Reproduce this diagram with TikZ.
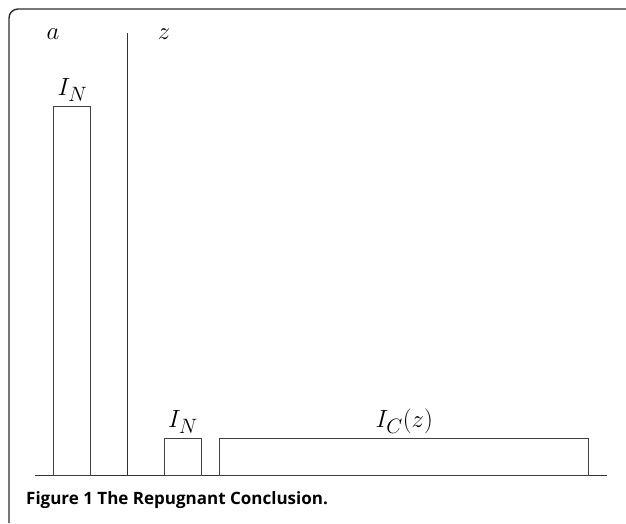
\documentclass[tikz,border=0pt]{standalone}
\usepackage{fontspec}
\newfontfamily\capfont{Open Sans}
\begin{document}
\begin{tikzpicture}[x=1pt,y=-1pt,
  bar/.style={draw=black!75,line width=1.1pt,inner sep=0pt,anchor=south west},
  lbl/.style={anchor=base,inner sep=0pt,font=\fontsize{29}{34}\selectfont},
  rule/.style={draw=black!80,line width=1.2pt}]
\useasboundingbox (0,0) rectangle (626,523);
% frame
\draw[black!82,line width=1.4pt,rounded corners=9pt] (9,523) -- (9,9) -- (626,9);
% baseline and divider
\coordinate (bl) at (34.7,475.7);
\coordinate (br) at (606.7,475.7);
\coordinate (dt) at (127,33);
\coordinate (db) at (127,475.7);
\draw[rule] (bl) -- (br);
\draw[draw=black!80,line width=1pt] (dt) -- (db);
% bars
\node[bar,minimum width=37pt,minimum height=368.4pt] (tall) at (53.3,475.7) {};
\node[bar,minimum width=36.7pt,minimum height=36.7pt] (small) at (164,475.7) {};
\node[bar,minimum width=369.3pt,minimum height=36.7pt] (long) at (219,475.7) {};
% labels
\node[lbl] (la) at (53,39) {$a$};
\node[lbl] (lz) at (164,39) {$z$};
\node[lbl] (l1) at ([yshift=10.5pt]tall.north) {$I_N$};
\node[lbl] (l2) at ([yshift=10.5pt]small.north) {$I_N$};
\node[lbl] (l3) at ([yshift=10.5pt]long.north) {$I_C(z)$};
% caption
\node[anchor=base west,inner sep=0pt,font=\capfont\bfseries\fontsize{17}{20}\selectfont] (cap) at (26,504.5) {Figure 1 The Repugnant Conclusion.};
\end{tikzpicture}
\end{document}
